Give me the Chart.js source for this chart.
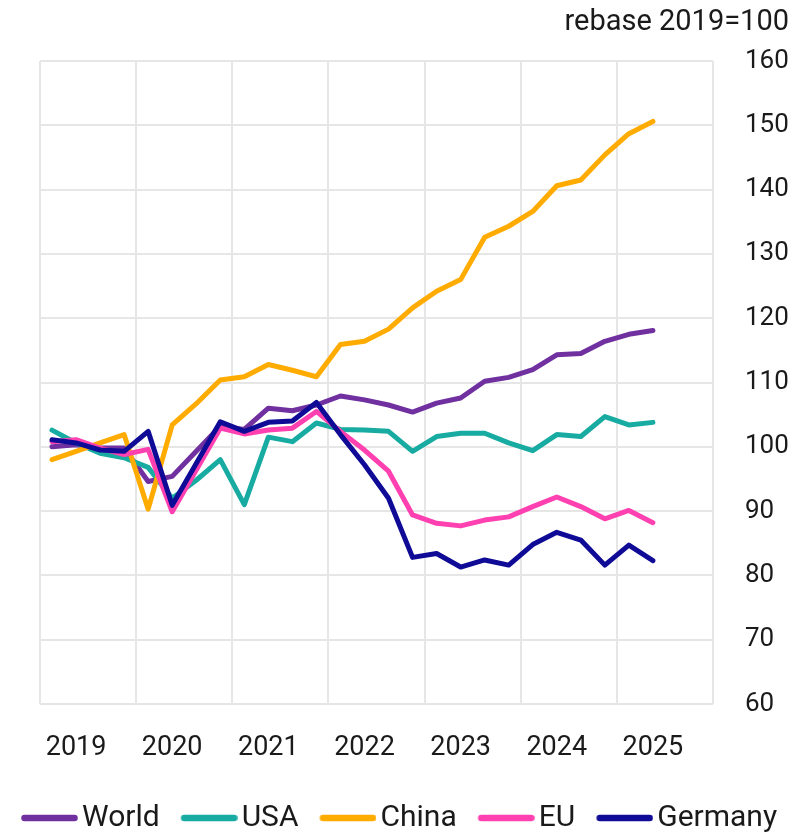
<!DOCTYPE html>
<html lang="en">
<head>
<meta charset="UTF-8">
<title>rebase 2019=100</title>
<script src="https://cdn.jsdelivr.net/npm/chart.js@4"></script>
<style>
    html, body { margin: 0; padding: 0; background: #fff; overflow: hidden; }
    .chart-box { position: relative; width: 804px; height: 843px; }
</style>
</head>
<body>
<div class="chart-box"><canvas id="chart"></canvas></div>
<script>
// quarterly categories, 2019Q1 .. 2025Q4 (data runs to 2025Q2)
const quarters = [
    '2019Q1', '2019Q2', '2019Q3', '2019Q4',
    '2020Q1', '2020Q2', '2020Q3', '2020Q4',
    '2021Q1', '2021Q2', '2021Q3', '2021Q4',
    '2022Q1', '2022Q2', '2022Q3', '2022Q4',
    '2023Q1', '2023Q2', '2023Q3', '2023Q4',
    '2024Q1', '2024Q2', '2024Q3', '2024Q4',
    '2025Q1', '2025Q2', '2025Q3', '2025Q4'
];
const yearLabels = ['2019', '2020', '2021', '2022', '2023', '2024', '2025'];

const world   = [100.0, 100.3, 99.8, 99.8, 94.6, 95.4, 99.3, 103.2, 102.7, 106.0, 105.6, 106.5, 107.9, 107.3, 106.5, 105.4, 106.8, 107.6, 110.2, 110.8, 112.0, 114.3, 114.5, 116.4, 117.5, 118.1];
const usa     = [102.6, 100.6, 99.0, 98.3, 96.8, 92.0, 94.8, 98.0, 91.0, 101.5, 100.8, 103.7, 102.7, 102.6, 102.4, 99.3, 101.6, 102.1, 102.1, 100.6, 99.4, 101.9, 101.6, 104.7, 103.4, 103.8];
const china   = [98.0, 99.3, 100.6, 101.9, 90.3, 103.4, 106.7, 110.4, 110.9, 112.8, 111.9, 110.9, 115.9, 116.4, 118.3, 121.6, 124.2, 126.0, 132.6, 134.3, 136.6, 140.6, 141.5, 145.4, 148.7, 150.6];
const eu      = [100.8, 101.1, 99.8, 98.8, 99.6, 89.9, 96.4, 102.9, 102.0, 102.6, 102.9, 105.5, 102.4, 99.5, 96.2, 89.4, 88.1, 87.7, 88.6, 89.1, 90.7, 92.2, 90.7, 88.8, 90.1, 88.2];
const germany = [101.1, 100.6, 99.5, 99.3, 102.4, 90.9, 97.4, 103.9, 102.4, 103.8, 104.0, 106.9, 101.9, 97.2, 92.0, 82.8, 83.4, 81.3, 82.4, 81.6, 84.8, 86.7, 85.5, 81.6, 84.7, 82.3];

const seriesNames  = ['World', 'USA', 'China', 'EU', 'Germany'];
const seriesData   = [world, usa, china, eu, germany];
const seriesColors = ['#7030a0', '#17aba2', '#ffab00', '#ff40b0', '#100b96'];

const FONT = 'Roboto';
const TEXT = '#1a1a1a';
const GRID = '#e6e6e6';

// legend swatch: a short thick rounded line, drawn right next to the text
function legendLine(color) {
    const c = document.createElement('canvas');
    c.width = 89;
    c.height = 14;
    const g = c.getContext('2d');
    g.strokeStyle = color;
    g.lineWidth = 6.5;
    g.lineCap = 'round';
    g.beginPath();
    g.moveTo(35.5, 7);
    g.lineTo(85.5, 7);
    g.stroke();
    return c;
}
const legendLines = seriesColors.map(legendLine);

const datasets = seriesNames.map((name, i) => ({
    label: name,
    data: seriesData[i],
    borderColor: seriesColors[i],
    backgroundColor: seriesColors[i],
    borderWidth: 5,
    pointRadius: 0,
    tension: 0,
    fill: false,
    borderJoinStyle: 'round',
    borderCapStyle: 'round',
    yAxisID: 'y',
    order: seriesNames.length - i   // Germany drawn on top
}));

new Chart(document.getElementById('chart'), {
    type: 'line',
    data: { labels: quarters, datasets: datasets },
    options: {
        responsive: true,
        maintainAspectRatio: false,
        animation: false,
        layout: { padding: { left: 0, right: 15, top: 0, bottom: 0 } },
        scales: {
            x: {
                type: 'category',
                offset: true,
                grid: {
                    offset: true,
                    drawTicks: false,
                    lineWidth: 2,
                    color: (c) => (c.index === undefined || c.index % 4 === 0) ? GRID : 'rgba(0,0,0,0)'
                },
                border: { display: false },
                ticks: {
                    autoSkip: false,
                    maxRotation: 0,
                    minRotation: 0,
                    padding: 28,
                    color: TEXT,
                    font: { family: FONT, size: 27 },
                    callback: (value, index) => index % 4 === 1 ? yearLabels[(index - 1) / 4] : ''
                }
            },
            y: {
                type: 'linear',
                position: 'right',
                min: 60,
                max: 160,
                grid: { drawTicks: false, lineWidth: 2, color: GRID },
                border: { display: false },
                ticks: {
                    stepSize: 10,
                    padding: 32,
                    color: TEXT,
                    font: { family: FONT, size: 26 }
                },
                afterFit: (s) => { s.width = 76; }
            },
            // empty left axis, only keeps the plot 40px off the left edge
            yl: {
                type: 'linear',
                position: 'left',
                grid: { display: false },
                border: { display: false },
                ticks: { display: false },
                afterFit: (s) => { s.width = 40; }
            }
        },
        plugins: {
            tooltip: { enabled: false },
            title: {
                display: true,
                text: 'rebase 2019=100',
                align: 'end',
                color: TEXT,
                font: { family: FONT, size: 29, weight: 'normal' },
                padding: { top: 5, bottom: 21.2 }
            },
            legend: {
                position: 'bottom',
                align: 'start',
                // empty title used as a small spacer above the legend row
                title: { display: true, text: '', font: { size: 5 }, padding: 2.3 },
                labels: {
                    usePointStyle: true,
                    pointStyleWidth: 67,
                    boxHeight: 12,
                    padding: 0,
                    color: TEXT,
                    font: { family: FONT, size: 30 },
                    generateLabels(chart) {
                        const items = Chart.defaults.plugins.legend.labels.generateLabels(chart);
                        items.forEach(it => { it.pointStyle = legendLines[it.datasetIndex]; });
                        return items.sort((a, b) => a.datasetIndex - b.datasetIndex);
                    }
                }
            }
        }
    }
});
</script>
</body>
</html>
